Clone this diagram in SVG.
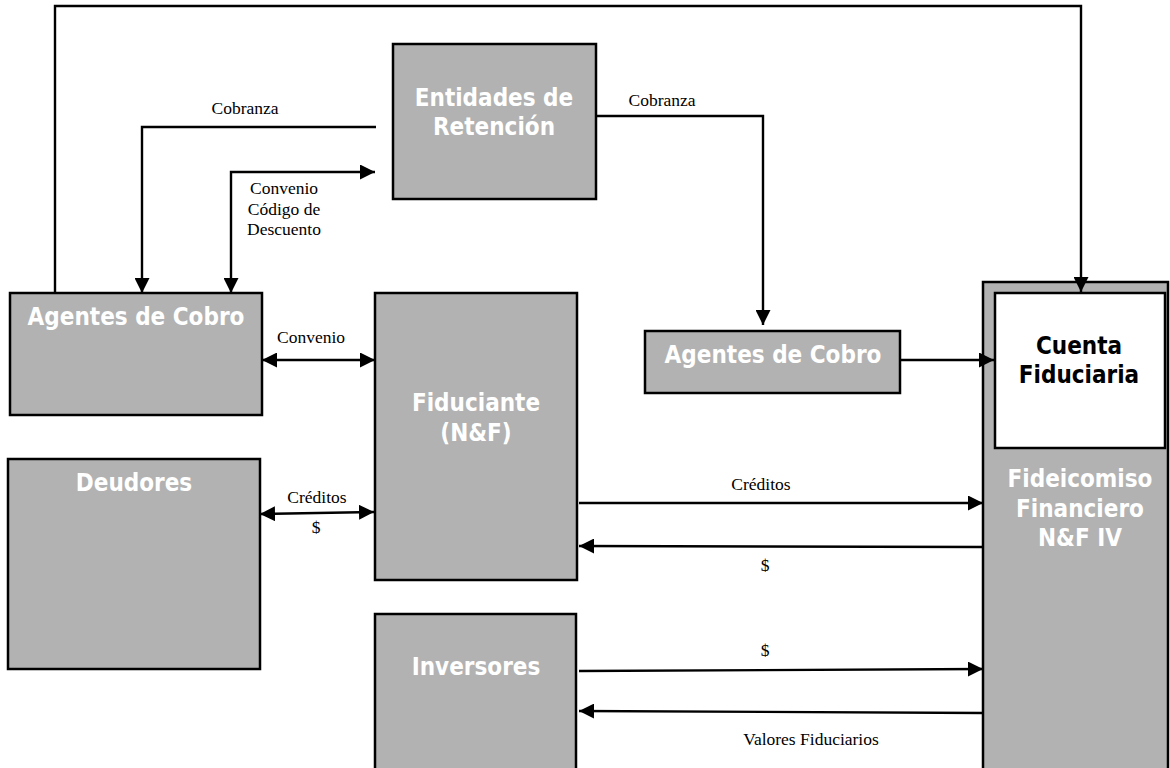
<svg xmlns="http://www.w3.org/2000/svg" width="1170" height="768" viewBox="0 0 1170 768">
<style>
.box{fill:#b2b2b2;stroke:#000;stroke-width:2.5}
.white{fill:#fff;stroke:#000;stroke-width:2.5}
.nl{font-family:"DejaVu Sans Condensed","DejaVu Sans",sans-serif;font-stretch:condensed;font-weight:bold;font-size:24px;fill:#fff;text-anchor:middle}
.nb{fill:#000}
.lb{font-family:"Liberation Serif","Times New Roman",serif;font-size:17.5px;fill:#000;text-anchor:middle}
.c{fill:none;stroke:#000;stroke-width:2.4}
.a{marker-end:url(#ah)}
.d{marker-start:url(#ah);marker-end:url(#ah)}
</style>
<defs>
<marker id="ah" markerUnits="userSpaceOnUse" markerWidth="15" markerHeight="15" refX="15" refY="7.5" orient="auto-start-reverse" viewBox="0 0 15 15">
<path d="M0,0 L15,7.5 L0,15 z" fill="#000"/>
</marker>
</defs>
<rect width="1170" height="768" fill="#fff"/>
<g id="fideicomiso">
<rect class="box" x="983" y="282" width="185" height="500"/>
<text class="nl"><tspan x="1080" y="487">Fideicomiso</tspan><tspan x="1080" y="517">Financiero</tspan><tspan x="1080" y="546">N&amp;F IV</tspan></text>
</g>
<g id="cuenta">
<rect class="white" x="995" y="293" width="170" height="155"/>
<text class="nl nb"><tspan x="1079" y="354">Cuenta</tspan><tspan x="1079" y="383">Fiduciaria</tspan></text>
</g>
<g id="entidades">
<rect class="box" x="393" y="44" width="203" height="155"/>
<text class="nl"><tspan x="494" y="106">Entidades de</tspan><tspan x="494" y="135">Retención</tspan></text>
</g>
<g id="agentes1">
<rect class="box" x="10" y="293" width="252" height="122"/>
<text class="nl" x="136" y="325">Agentes de Cobro</text>
</g>
<g id="deudores">
<rect class="box" x="8" y="459" width="252" height="210"/>
<text class="nl" x="134" y="491">Deudores</text>
</g>
<g id="fiduciante">
<rect class="box" x="375" y="293" width="202" height="287"/>
<text class="nl"><tspan x="476" y="411">Fiduciante</tspan><tspan x="476" y="441">(N&amp;F)</tspan></text>
</g>
<g id="inversores">
<rect class="box" x="375" y="614" width="201" height="170"/>
<text class="nl" x="476" y="675">Inversores</text>
</g>
<g id="agentes2">
<rect class="box" x="645" y="331" width="255" height="62"/>
<text class="nl" x="773" y="363">Agentes de Cobro</text>
</g>
<g id="connectors">
<polyline class="c a" points="55,293 55,6 1081,6 1081,292"/>
<polyline class="c a" points="376,127 142,127 142,293"/>
<polyline class="c d" points="231,293 231,172 375,172"/>
<polyline class="c a" points="596,116 763,116 763,325"/>
<line class="c a" x1="900" y1="360" x2="994" y2="360"/>
<line class="c d" x1="262" y1="360" x2="375" y2="360"/>
<line class="c d" x1="260" y1="514" x2="374" y2="512"/>
<line class="c a" x1="579" y1="503" x2="983" y2="503"/>
<line class="c a" x1="983" y1="547" x2="579" y2="546"/>
<line class="c a" x1="579" y1="671" x2="983" y2="669"/>
<line class="c a" x1="983" y1="713" x2="579" y2="711"/>
<text class="lb" x="245" y="114">Cobranza</text>
<text class="lb" x="662" y="106">Cobranza</text>
<text class="lb"><tspan x="284" y="194">Convenio</tspan><tspan x="284" y="215">Código de</tspan><tspan x="284" y="235">Descuento</tspan></text>
<text class="lb" x="311" y="343">Convenio</text>
<text class="lb" x="317" y="503">Créditos</text>
<text class="lb" x="316" y="533">$</text>
<text class="lb" x="761" y="490">Créditos</text>
<text class="lb" x="765" y="571">$</text>
<text class="lb" x="765" y="656">$</text>
<text class="lb" x="811" y="745">Valores Fiduciarios</text>
</g>
</svg>
